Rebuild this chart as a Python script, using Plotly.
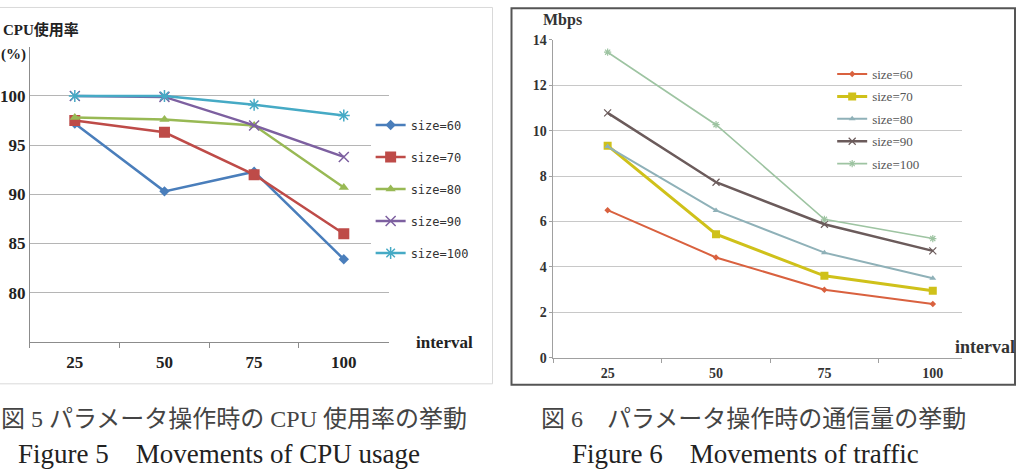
import plotly.graph_objects as go

W, H = 1016, 476

# ---------------- data ----------------
interval = ["25", "50", "75", "100"]
size_labels = ["size=60", "size=70", "size=80", "size=90", "size=100"]

cpu_60 = [97.2, 90.3, 92.3, 83.4]
cpu_70 = [97.5, 96.3, 92.0, 86.0]
cpu_80 = [97.8, 97.6, 97.0, 90.7]
cpu_90 = [100.0, 99.9, 97.0, 93.8]
cpu_100 = [100.0, 100.0, 99.1, 98.0]

traffic_60 = [6.5, 4.42, 3.0, 2.37]
traffic_70 = [9.34, 5.44, 3.61, 2.95]
traffic_80 = [9.3, 6.49, 4.63, 3.5]
traffic_90 = [10.78, 7.73, 5.88, 4.71]
traffic_100 = [13.45, 10.26, 6.1, 5.25]

cpu_ticks = [75, 80, 85, 90, 95, 100, 105]
cpu_ticktext = ["", "80", "85", "90", "95", "100", ""]
traffic_ticks = [0, 2, 4, 6, 8, 10, 12, 14]

# ---------------- styles ----------------
cpu_series = [cpu_60, cpu_70, cpu_80, cpu_90, cpu_100]
cpu_colors = ["#4A7EBB", "#BE4B48", "#98B954", "#7D60A0", "#46AAC5"]
cpu_symbols = ["diamond", "square", "triangle-up", "x-thin-open", "asterisk-open"]
cpu_msizes = [8, 11, 9, 10, 10]

tr_series = [traffic_60, traffic_70, traffic_80, traffic_90, traffic_100]
tr_colors = ["#D9613F", "#CFC11A", "#8FB1B8", "#6B5B5B", "#9EC4A2"]
tr_symbols = ["diamond", "square", "triangle-up", "x-thin-open", "asterisk-open"]
tr_msizes = [5, 8, 6, 7, 6]
tr_widths = [2, 3, 2, 2.5, 1.6]

def px(x):
    return x / W

def py(y):
    # vertical position helper (pixel from top -> paper fraction)
    s = (y - 7.2) / 0.971
    return 1 - s / H

def py_raw(y):
    return 1 - y / H

fig = go.Figure()

for i, ys in enumerate(cpu_series):
    open_sym = cpu_symbols[i].endswith("open")
    fig.add_trace(go.Scatter(
        x=interval, y=ys, name=size_labels[i], mode="lines+markers",
        xaxis="x", yaxis="y", legend="legend", legendgroup="c%d" % i,
        line=dict(color=cpu_colors[i], width=2.5),
        marker=dict(symbol=cpu_symbols[i], size=cpu_msizes[i], color=cpu_colors[i],
                    line=dict(width=1.5 if open_sym else 0, color=cpu_colors[i])),
    ))

for i, ys in enumerate(tr_series):
    open_sym = tr_symbols[i].endswith("open")
    fig.add_trace(go.Scatter(
        x=interval, y=ys, name=size_labels[i], mode="lines+markers",
        xaxis="x2", yaxis="y2", legend="legend2", legendgroup="t%d" % i,
        line=dict(color=tr_colors[i], width=tr_widths[i]),
        marker=dict(symbol=tr_symbols[i], size=tr_msizes[i], color=tr_colors[i],
                    line=dict(width=1.2 if open_sym else 0, color=tr_colors[i])),
    ))

serif_b = dict(family="Liberation Serif", size=17, color="#222222", weight="bold")
serif_b2 = dict(family="Liberation Serif", size=14, color="#333333", weight="bold")

fig.update_layout(
    width=W, height=H,
    margin=dict(l=0, r=0, t=0, b=0),
    paper_bgcolor="white", plot_bgcolor="white",
    showlegend=True,
    xaxis=dict(
        domain=[px(29), px(388)], type="category", categoryorder="array",
        categoryarray=interval, range=[-0.5, 3.5],
        showline=True, linecolor="#8C8C8C", linewidth=1,
        ticks="outside", tickson="boundaries", ticklen=5, tickcolor="#8C8C8C",
        ticklabelstandoff=5,
        showgrid=False, zeroline=False, tickfont=serif_b, anchor="y",
    ),
    yaxis=dict(
        domain=[py(343), py(47)], range=[75, 105],
        tickmode="array", tickvals=cpu_ticks, ticktext=cpu_ticktext,
        showgrid=True, gridcolor="#B5B5B5", gridwidth=1,
        showline=True, linecolor="#8C8C8C", linewidth=1,
        ticks="", zeroline=False, tickfont=serif_b, anchor="x",
    ),
    xaxis2=dict(
        domain=[px(553), px(962)], type="category", categoryorder="array",
        categoryarray=interval, range=[-0.5, 3.27],
        showline=True, linecolor="#A0A0A0", linewidth=1,
        ticks="outside", tickson="boundaries", ticklen=4, tickcolor="#A0A0A0",
        ticklabelstandoff=2,
        showgrid=False, zeroline=False, tickfont=serif_b2, anchor="y2",
    ),
    yaxis2=dict(
        domain=[py(359), py(40)], range=[0, 14],
        tickmode="array", tickvals=traffic_ticks,
        showgrid=True, gridcolor="#C8C8C8", gridwidth=1,
        showline=True, linecolor="#A0A0A0", linewidth=1,
        ticks="outside", ticklen=3, tickcolor="#A0A0A0", zeroline=False,
        tickfont=serif_b2, anchor="x2",
    ),
    legend=dict(
        x=px(370), y=py(111), xanchor="left", yanchor="top",
        bgcolor="white", borderwidth=0,
        font=dict(family="DejaVu Sans Mono", size=12, color="#333333"),
        tracegroupgap=13, itemsizing="trace",
    ),
    legend2=dict(
        x=px(832), y=py(59.4), xanchor="left", yanchor="top",
        bgcolor="rgba(0,0,0,0)", borderwidth=0,
        font=dict(family="Liberation Serif", size=13, color="#555555"),
        tracegroupgap=2.5, itemsizing="trace",
    ),
)

# white backing behind the right legend (hides the gridlines there)
fig.add_shape(type="rect", xref="paper", yref="paper", layer="between",
              x0=px(820), x1=px(962), y0=py(172), y1=py(52),
              line=dict(width=0), fillcolor="white")

# frames around the two figure panels
fig.add_shape(type="rect", xref="paper", yref="paper",
              x0=px(-2), x1=px(492), y0=py(385), y1=py_raw(0.5),
              line=dict(color="#D9D9D9", width=1), fillcolor="rgba(0,0,0,0)")
fig.add_shape(type="rect", xref="paper", yref="paper",
              x0=px(511), x1=px(1015), y0=py(386), y1=py_raw(1.2),
              line=dict(color="#555555", width=2), fillcolor="rgba(0,0,0,0)")

ann = []
ann.append(dict(text="CPU使用率", x=px(0), y=py(30), xanchor="left", yanchor="middle",
                font=dict(family="Liberation Serif, Noto Sans CJK JP", size=15, color="#222222", weight="bold")))
ann.append(dict(text="(%)", x=px(-2), y=py(55), xanchor="left", yanchor="middle",
                font=dict(family="Liberation Serif", size=15, color="#222222", weight="bold")))
ann.append(dict(text="interval", x=px(413), y=py(344), xanchor="left", yanchor="middle",
                font=dict(family="Liberation Serif", size=17, color="#222222", weight="bold")))
ann.append(dict(text="Mbps", x=px(541), y=py(20), xanchor="left", yanchor="middle",
                font=dict(family="Liberation Serif", size=16, color="#333333", weight="bold")))
ann.append(dict(text="interval", x=px(953), y=py(348), xanchor="left", yanchor="middle",
                font=dict(family="Liberation Serif", size=18, color="#333333", weight="bold")))

cap_jp = dict(family="Liberation Serif, Noto Sans CJK JP", size=24, color="#444444")
cap_en = dict(family="Liberation Serif", size=27, color="#222222")
ann.append(dict(text="図 5 パラメータ操作時の CPU 使用率の挙動", x=px(233), y=py(420),
                xanchor="center", yanchor="middle", font=cap_jp))
ann.append(dict(text="Figure 5　Movements of CPU usage", x=px(218), y=py(455),
                xanchor="center", yanchor="middle", font=cap_en))
ann.append(dict(text="図 6　パラメータ操作時の通信量の挙動", x=px(753), y=py(420),
                xanchor="center", yanchor="middle", font=cap_jp))
ann.append(dict(text="Figure 6　Movements of traffic", x=px(745), y=py(455),
                xanchor="center", yanchor="middle", font=cap_en))

for a in ann:
    a.update(xref="paper", yref="paper", showarrow=False)
fig.update_layout(annotations=ann)

fig.write_html("out.html")
